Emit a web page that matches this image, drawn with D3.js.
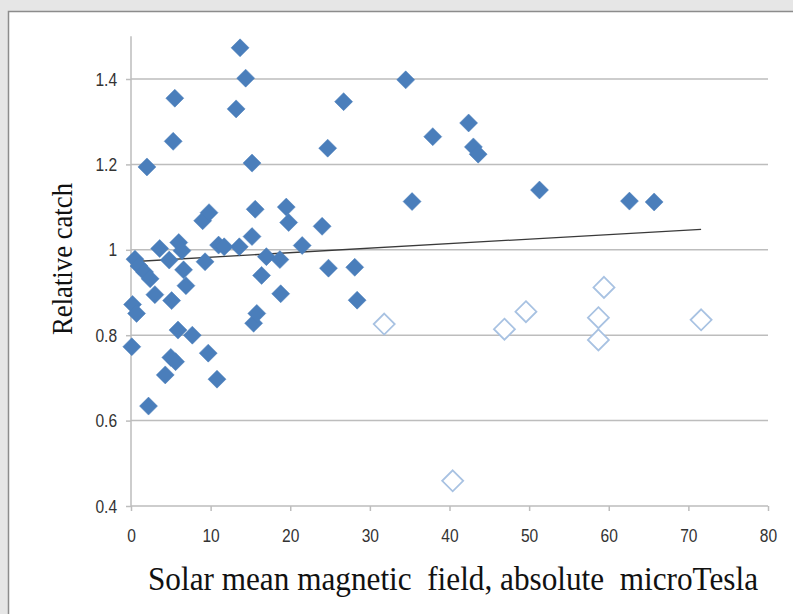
<!DOCTYPE html>
<html>
<head>
<meta charset="utf-8">
<script src="https://cdn.jsdelivr.net/npm/d3@7"></script>
<style>
  html, body { margin: 0; padding: 0; background: #e6e6e6; }
  svg { display: block; }
</style>
</head>
<body>
<svg id="chart" width="793" height="614"></svg>
<script>
// ---- data ----
const filledX = [13.7, 14.4, 5.5, 13.2, 5.3, 2.0, 15.2, 34.5, 26.7, 37.9, 42.4, 24.7, 43.0, 43.6, 35.3, 51.3, 62.6, 65.7,
  15.6, 19.5, 19.8, 9.0, 9.8, 15.2, 21.5, 24.0, 13.6, 11.0, 11.7, 3.6, 6.0, 6.4, 4.8, 0.5, 1.0, 1.7, 2.4, 6.6, 6.9, 9.3,
  17.0, 18.7, 16.4, 18.8, 24.8, 28.1, 28.4, 15.4, 15.8, 3.0, 5.1, 0.2, 0.7, 5.9, 7.7, 0.1, 9.7, 5.0, 5.6, 4.3, 10.8, 2.2];
const filledY = [1.473, 1.402, 1.355, 1.330, 1.254, 1.194, 1.203, 1.398, 1.347, 1.265, 1.297, 1.238, 1.241, 1.224, 1.113, 1.140, 1.114, 1.112,
  1.095, 1.100, 1.064, 1.068, 1.087, 1.031, 1.010, 1.055, 1.007, 1.011, 1.007, 1.003, 1.017, 0.998, 0.976, 0.978, 0.962, 0.948, 0.932, 0.953, 0.916, 0.972,
  0.984, 0.977, 0.940, 0.897, 0.957, 0.959, 0.882, 0.828, 0.851, 0.895, 0.881, 0.872, 0.851, 0.812, 0.800, 0.773, 0.758, 0.748, 0.738, 0.707, 0.697, 0.634];
const hollowX = [31.8, 40.4, 46.9, 49.6, 58.7, 58.7, 59.4, 71.6];
const hollowY = [0.826, 0.459, 0.814, 0.855, 0.841, 0.789, 0.912, 0.836];
const trendX = [0, 71.6];
const trendY = [0.972, 1.048];
const xTicks = [0, 10, 20, 30, 40, 50, 60, 70, 80];
const yTicks = [0.4, 0.6, 0.8, 1.0, 1.2, 1.4];
const xTitle = "Solar mean magnetic  field, absolute  microTesla";
const yTitle = "Relative catch";

// ---- drawing ----
const svg = d3.select("#chart");
svg.append("rect").attr("x", 0).attr("y", 0).attr("width", 793).attr("height", 614).attr("fill", "#e6e6e6");
svg.append("rect").attr("x", 8.5).attr("y", 11.5).attr("width", 800).attr("height", 620)
  .attr("fill", "#ffffff").attr("stroke", "#8c8c8c").attr("stroke-width", 1.5);

const x = d3.scaleLinear().domain([0, 80]).range([131, 768]);
const y = d3.scaleLinear().domain([0.4, 1.5]).range([506, 36.3]);

// gridlines
svg.append("g").selectAll("line").data(yTicks.filter(d => d > 0.4)).join("line")
  .attr("x1", x(0)).attr("x2", x(80))
  .attr("y1", d => y(d)).attr("y2", d => y(d))
  .attr("stroke", "#bdbdbd").attr("stroke-width", 1.5);

// axes
const yAxis = d3.axisLeft(y).tickValues(yTicks).tickSize(5).tickPadding(0)
  .tickFormat(d => d === 1 ? "1" : d3.format(".1f")(d));
const gy = svg.append("g").attr("transform", `translate(${x(0)},0)`).call(yAxis);
const xAxis = d3.axisBottom(x).tickValues(xTicks).tickSize(5).tickPadding(18).tickFormat(d3.format("d"));
const gx = svg.append("g").attr("transform", `translate(0,${y(0.4)})`).call(xAxis);
[gx, gy].forEach(g => {
  g.select(".domain").attr("stroke", "#bdbdbd").attr("stroke-width", 1.5);
  g.selectAll(".tick line").attr("stroke", "#bdbdbd").attr("stroke-width", 1.5);
  g.selectAll(".tick text").attr("fill", "#333333")
    .style("font-family", "'Liberation Sans', Arial, sans-serif").style("font-size", "19px");
});
gx.selectAll(".tick text").attr("transform", "scale(0.82,1)");
gy.selectAll(".tick text").attr("x", -17).attr("transform", "scale(0.82,1)");
gy.select(".domain").attr("d", `M0,${y(1.5)}V${y(0.4)}`);
gx.select(".domain").attr("d", `M${x(0)},0H${x(80)}`);

// trend line
svg.append("line")
  .attr("x1", x(trendX[0])).attr("y1", y(trendY[0]))
  .attr("x2", x(trendX[1])).attr("y2", y(trendY[1]))
  .attr("stroke", "#3a3a3a").attr("stroke-width", 1.3);

// markers
const diamond = s => `M0,${-s}L${s},0L0,${s}L${-s},0Z`;
svg.append("g").selectAll("path").data(hollowX.map((v, i) => [v, hollowY[i]])).join("path")
  .attr("d", diamond(10.5))
  .attr("transform", d => `translate(${x(d[0])},${y(d[1])})`)
  .attr("fill", "#ffffff").attr("stroke", "#a8c2e2").attr("stroke-width", 1.8);
svg.append("g").selectAll("path").data(filledX.map((v, i) => [v, filledY[i]])).join("path")
  .attr("d", diamond(9))
  .attr("transform", d => `translate(${x(d[0])},${y(d[1])})`)
  .attr("fill", "#4a7ebb").attr("stroke", "#4a7ebb").attr("stroke-width", 0.5);

// titles
svg.append("text").attr("x", 453).attr("y", 590).attr("text-anchor", "middle")
  .style("font-family", "'Liberation Serif', 'Times New Roman', serif").style("font-size", "33px")
  .style("white-space", "pre").attr("textLength", 610).attr("lengthAdjust", "spacingAndGlyphs")
  .attr("fill", "#111").text(xTitle);
svg.append("text").attr("transform", "translate(72,259) rotate(-90)").attr("text-anchor", "middle")
  .style("font-family", "'Liberation Serif', 'Times New Roman', serif").style("font-size", "29px")
  .attr("textLength", 152).attr("lengthAdjust", "spacingAndGlyphs")
  .attr("fill", "#111").text(yTitle);
</script>
</body>
</html>
